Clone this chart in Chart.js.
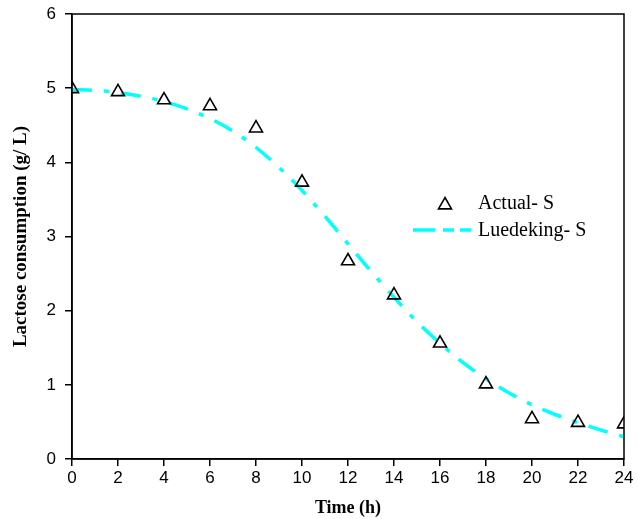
<!DOCTYPE html>
<html>
<head>
<meta charset="utf-8">
<script src="https://cdn.jsdelivr.net/npm/chart.js@4.4.1/dist/chart.umd.min.js"></script>
<style>
  html, body { margin: 0; padding: 0; background: #fff; }
  #wrap { width: 638px; height: 519px; }
</style>
</head>
<body>
<div id="wrap"><canvas id="lactoseChart" width="638" height="519"></canvas></div>
<script>
// measured points (triangles)
const timeActual = [0, 2, 4, 6, 8, 10, 12, 14, 16, 18, 20, 22, 24];
const actualS = [4.99, 4.95, 4.84, 4.76, 4.46, 3.73, 2.67, 2.21, 1.56, 1.01, 0.54, 0.49, 0.47];

// Luedeking model curve
const timeModel = [0, 1, 2, 3, 4, 5, 6, 7, 8, 9, 10, 11, 12, 13, 14, 15, 16, 17, 18, 19, 20, 21, 22, 23, 24];
const luedekingS = [4.98, 4.97, 4.94, 4.89, 4.82, 4.72, 4.59, 4.42, 4.2, 3.93, 3.62, 3.27, 2.9, 2.53, 2.18, 1.85, 1.56, 1.3, 1.08, 0.89, 0.73, 0.6, 0.49, 0.39, 0.3];

const xTicks = [0, 2, 4, 6, 8, 10, 12, 14, 16, 18, 20, 22, 24];
const yTicks = [0, 1, 2, 3, 4, 5, 6];

const CYAN = "#00ffff";
const DASH = [20, 12, 5, 12];
const SERIF = "'Liberation Serif', 'Times New Roman', serif";
const SANS = "'Liberation Sans', Arial, sans-serif";

// box around plot + legend inside
const boxAndLegend = {
  id: "boxAndLegend",
  afterDatasetsDraw(chart) {
    const { ctx, chartArea: a } = chart;
    ctx.save();
    ctx.strokeStyle = "#000";
    ctx.lineWidth = 1.5;
    ctx.strokeRect(a.left, a.top, a.right - a.left, a.bottom - a.top);

    // legend
    const ds0 = chart.data.datasets[0];
    ctx.font = "20px " + SERIF;
    ctx.fillStyle = "#000";
    ctx.textBaseline = "middle";
    ctx.textAlign = "left";

    // triangle
    const tx = 445, ty = 204, r = 6.5;
    ctx.beginPath();
    ctx.moveTo(tx, ty - r);
    ctx.lineTo(tx + r, ty + r * 0.75);
    ctx.lineTo(tx - r, ty + r * 0.75);
    ctx.closePath();
    ctx.lineWidth = 1.6;
    ctx.strokeStyle = "#000";
    ctx.stroke();
    ctx.fillText(ds0.label, 478, 204);

    // dashed line
    ctx.beginPath();
    ctx.strokeStyle = CYAN;
    ctx.lineWidth = 3.5;
    ctx.setLineDash([22, 8, 11, 6]);
    ctx.moveTo(413, 230);
    ctx.lineTo(471, 230);
    ctx.stroke();
    ctx.setLineDash([]);
    ctx.fillText(chart.data.datasets[1].label, 478, 231);
    ctx.restore();
  }
};

const ctx = document.getElementById("lactoseChart");
new Chart(ctx, {
  type: "scatter",
  data: {
    datasets: [
      {
        label: "Actual- S",
        data: timeActual.map((t, i) => ({ x: t, y: actualS[i] })),
        pointStyle: "triangle",
        pointRadius: 7.5,
        pointBackgroundColor: "rgba(0,0,0,0)",
        pointBorderColor: "#000",
        pointBorderWidth: 1.6,
        borderColor: "#000",
        showLine: false,
        order: 0
      },
      {
        label: "Luedeking- S",
        data: timeModel.map((t, i) => ({ x: t, y: luedekingS[i] })),
        showLine: true,
        borderColor: CYAN,
        borderWidth: 3.5,
        borderDash: DASH,
        pointRadius: 0,
        cubicInterpolationMode: "monotone",
        order: 1
      }
    ]
  },
  options: {
    responsive: false,
    animation: false,
    layout: { padding: { top: 14, right: 14, left: 0, bottom: 0 } },
    plugins: {
      legend: { display: false },
      tooltip: { enabled: false }
    },
    scales: {
      x: {
        type: "linear",
        min: 0,
        max: 24,
        afterBuildTicks: (s) => { s.ticks = xTicks.map(v => ({ value: v })); },
        afterFit: (s) => { s.height = 60; s.paddingLeft = 0; s.paddingRight = 0; },
        grid: { display: true, drawOnChartArea: false, drawTicks: true, tickLength: 7, color: "#000", lineWidth: 1.5 },
        border: { display: true, color: "#000", width: 1.5 },
        ticks: {
          color: "#000",
          font: { family: SANS, size: 17 },
          padding: 2,
          maxRotation: 0
        },
        title: {
          display: true,
          text: "Time (h)",
          color: "#000",
          font: { family: SERIF, size: 18, weight: "bold" },
          padding: { top: 2, bottom: 0 }
        }
      },
      y: {
        min: 0,
        max: 6,
        afterBuildTicks: (s) => { s.ticks = yTicks.map(v => ({ value: v })); },
        afterFit: (s) => { s.width = 72; s.paddingTop = 0; s.paddingBottom = 0; },
        grid: { display: true, drawOnChartArea: false, drawTicks: true, tickLength: 7, color: "#000", lineWidth: 1.5 },
        border: { display: true, color: "#000", width: 1.5 },
        ticks: {
          color: "#000",
          font: { family: SANS, size: 17 },
          padding: 9
        },
        title: {
          display: true,
          text: "Lactose consumption (g/ L)",
          color: "#000",
          font: { family: SERIF, size: 19, weight: "bold" },
          padding: { top: 10, bottom: 2 }
        }
      }
    }
  },
  plugins: [boxAndLegend]
});
</script>
</body>
</html>
